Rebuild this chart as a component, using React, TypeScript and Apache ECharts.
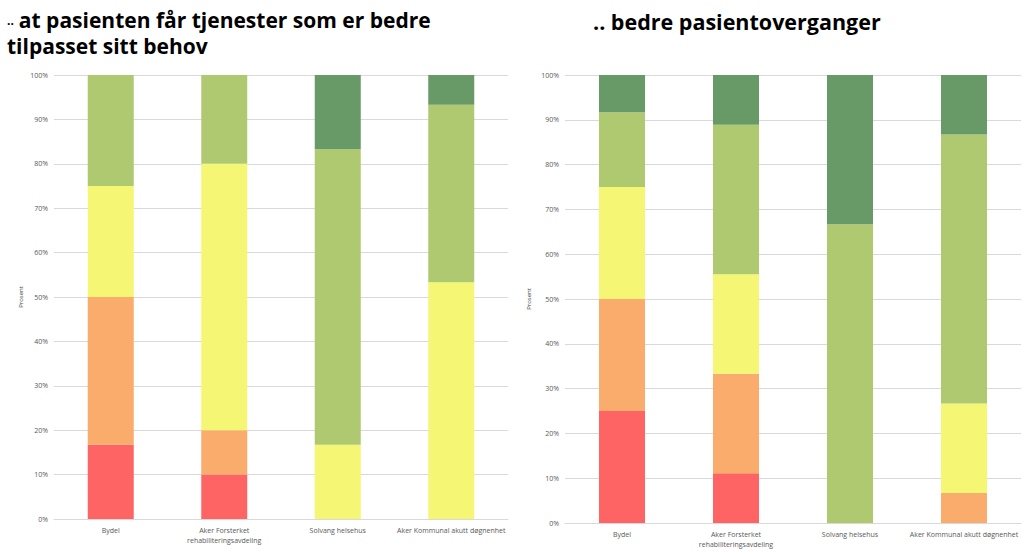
import React, { useEffect, useRef } from "react";
import * as echarts from "echarts";

const categories = [
  "Bydel",
  "Aker Forsterket\nrehabiliteringsavdeling",
  "Solvang helsehus",
  "Aker Kommunal akutt døgnenhet",
];

const seriesNames = ["Svært lite", "Lite", "Noe", "Stort", "Svært stort"];
const seriesColors = ["#FF6464", "#F9AC6B", "#F6F675", "#AFC970", "#679A66"];

// Left chart: ".. at pasienten får tjenester som er bedre tilpasset sitt behov"
const leftRed = [16.7, 10, 0, 0];
const leftOrange = [33.3, 10, 0, 0];
const leftYellow = [25, 60, 16.7, 53.3];
const leftLightGreen = [25, 20, 66.6, 40];
const leftDarkGreen = [0, 0, 16.7, 6.7];

// Right chart: ".. bedre pasientoverganger"
const rightRed = [25, 11.1, 0, 0];
const rightOrange = [25, 22.2, 0, 6.7];
const rightYellow = [25, 22.2, 0, 20];
const rightLightGreen = [16.7, 33.4, 66.7, 60];
const rightDarkGreen = [8.3, 11.1, 33.3, 13.3];

const leftData = [leftRed, leftOrange, leftYellow, leftLightGreen, leftDarkGreen];
const rightData = [rightRed, rightOrange, rightYellow, rightLightGreen, rightDarkGreen];

const titleLeft1 = "at pasienten får tjenester som er bedre";
const titleLeft2 = "tilpasset sitt behov";
const titleRight = ".. bedre pasientoverganger";

export default function App() {
  const ref = useRef<HTMLDivElement>(null);
  useEffect(() => {
    if (!ref.current) return;
    const chart = echarts.init(ref.current, null, { renderer: "svg" });
    const axisLabelStyle = { color: "#595959", fontSize: 7, fontFamily: "Open Sans" };
    const makeX = (gridIndex: number) => ({
      type: "category",
      gridIndex,
      data: categories,
      axisTick: { show: false },
      axisLine: { show: true, lineStyle: { color: "#d9d9d9" } },
      axisLabel: { ...axisLabelStyle, margin: 6, interval: 0, lineHeight: 10 },
    });
    const makeY = (gridIndex: number, gap: number) => ({
      type: "value",
      gridIndex,
      min: 0,
      max: 100,
      interval: 10,
      name: "Prosent",
      nameLocation: "middle",
      nameGap: gap,
      nameRotate: 90,
      nameTextStyle: { color: "#404040", fontSize: 6, fontFamily: "Open Sans" },
      axisLabel: { ...axisLabelStyle, margin: 6, formatter: (v: number) => v + "%" },
      splitLine: { lineStyle: { color: "#d9d9d9" } },
      axisLine: { show: false },
      axisTick: { show: false },
    });
    const series: any[] = [];
    leftData.forEach((d, i) =>
      series.push({
        type: "bar",
        name: seriesNames[i],
        stack: "left",
        xAxisIndex: 0,
        yAxisIndex: 0,
        barWidth: 46,
        data: d,
        itemStyle: { color: seriesColors[i] },
      })
    );
    rightData.forEach((d, i) =>
      series.push({
        type: "bar",
        name: seriesNames[i],
        stack: "right",
        xAxisIndex: 1,
        yAxisIndex: 1,
        barWidth: 46,
        data: d,
        itemStyle: { color: seriesColors[i] },
      })
    );
    const bold = {
      fontSize: 21,
      fontWeight: "bold",
      fontFamily: "Open Sans",
      color: "#000",
      lineHeight: 26,
    };
    chart.setOption({
      animation: false,
      backgroundColor: "#fff",
      title: [
        {
          text: "{s|..} {b|" + titleLeft1 + "}\n{b|" + titleLeft2 + "}",
          left: 2,
          top: 2,
          textStyle: {
            rich: {
              s: { fontSize: 12, fontFamily: "Open Sans", color: "#000", lineHeight: 26 },
              b: bold,
            },
          },
        },
        {
          text: titleRight,
          left: 588,
          top: 3,
          textStyle: { ...bold, fontSize: 21.5 },
        },
      ],
      grid: [
        { left: 54, top: 75, width: 454, height: 444 },
        { left: 565, top: 75, width: 456, height: 448 },
      ],
      xAxis: [makeX(0), makeX(1)],
      yAxis: [makeY(0, 30), makeY(1, 33)],
      series,
    });
    return () => chart.dispose();
  }, []);
  return (
    <div
      ref={ref}
      style={{ position: "fixed", left: 0, top: 0, width: 1023, height: 549 }}
    />
  );
}
